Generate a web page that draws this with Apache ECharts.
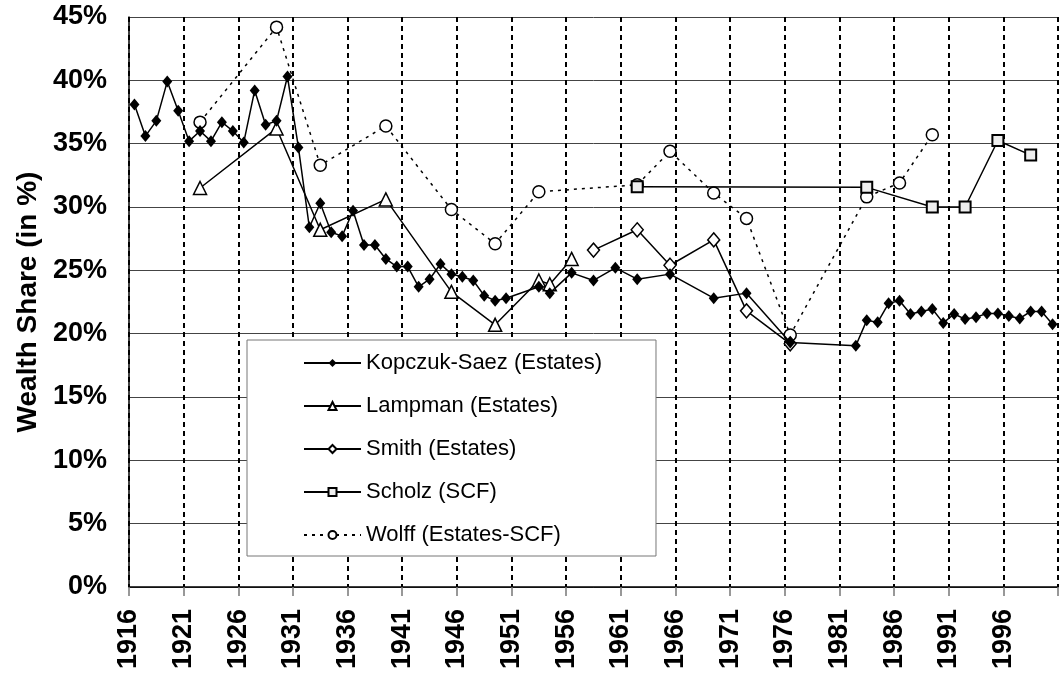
<!DOCTYPE html>
<html>
<head>
<meta charset="utf-8">
<script src="https://cdn.jsdelivr.net/npm/echarts@6/dist/echarts.min.js"></script>
<style>
  html, body { margin: 0; padding: 0; background: #fff; }
  #chart { width: 1062px; height: 687px; }
</style>
</head>
<body>
<div id="chart"></div>
<script>
// Top wealth share series (%)
const ksYears = [1916, 1917, 1918, 1919, 1920, 1921, 1922, 1923, 1924, 1925, 1926, 1927, 1928, 1929,
  1930, 1931, 1932, 1933, 1934, 1935, 1936, 1937, 1938, 1939, 1940, 1941, 1942, 1943, 1944, 1945,
  1946, 1947, 1948, 1949, 1950, 1953, 1954, 1956, 1958, 1960, 1962, 1965, 1969, 1972, 1976, 1982,
  1983, 1984, 1985, 1986, 1987, 1988, 1989, 1990, 1991, 1992, 1993, 1994, 1995, 1996, 1997, 1998,
  1999, 2000];
const ksValues = [38.1, 35.6, 36.8, 39.9, 37.6, 35.2, 36.0, 35.2, 36.7, 36.0, 35.1, 39.2, 36.5, 36.8,
  40.3, 34.7, 28.4, 30.3, 28.0, 27.7, 29.7, 27.0, 27.0, 25.9, 25.3, 25.3, 23.7, 24.3, 25.5, 24.7,
  24.5, 24.2, 23.0, 22.6, 22.8, 23.7, 23.2, 24.8, 24.2, 25.2, 24.3, 24.7, 22.8, 23.2, 19.3, 19.05,
  21.05, 20.9, 22.4, 22.6, 21.55, 21.75, 21.95, 20.85, 21.55, 21.15, 21.3, 21.6, 21.6, 21.4, 21.2, 21.75,
  21.75, 20.75];

const lampYears = [1922, 1929, 1933, 1939, 1945, 1949, 1953, 1954, 1956];
const lampValues = [31.5, 36.2, 28.2, 30.6, 23.3, 20.7, 24.2, 23.9, 25.9];

const smithYears = [1958, 1962, 1965, 1969, 1972, 1976];
const smithValues = [26.6, 28.2, 25.4, 27.4, 21.8, 19.2];

const scholzYears = [1962, 1983, 1989, 1992, 1995, 1998];
const scholzValues = [31.6, 31.55, 30.0, 30.0, 35.25, 34.1];

const wolffYears = [1922, 1929, 1933, 1939, 1945, 1949, 1953, 1962, 1965, 1969, 1972, 1976, 1983, 1986, 1989];
const wolffValues = [36.7, 44.2, 33.3, 36.4, 29.8, 27.1, 31.2, 31.75, 34.4, 31.1, 29.1, 19.9, 30.8, 31.9, 35.7];

const seriesNames = ['Kopczuk-Saez (Estates)', 'Lampman (Estates)', 'Smith (Estates)', 'Scholz (SCF)', 'Wolff (Estates-SCF)'];

const FONT = '"Liberation Sans", Arial, sans-serif';

function pairs(years, values) {
  return years.map((y, i) => [y, values[i]]);
}

const openItem = { color: '#fff', borderColor: '#000', borderWidth: 1.5 };

const chart = echarts.init(document.getElementById('chart'), null, { renderer: 'canvas' });
const option = {
  animation: false,
  backgroundColor: '#fff',
  textStyle: { fontFamily: FONT, color: '#000' },
  grid: { left: 129, right: 4, top: 17, bottom: 100 },
  legend: {
    orient: 'vertical',
    left: 247,
    top: 340,
    data: seriesNames,
    backgroundColor: '#fff',
    borderColor: '#777',
    borderWidth: 1,
    borderRadius: 0,
    padding: [12, 54, 10, 56],
    itemWidth: 57,
    itemHeight: 10,
    itemGap: 21,
    textStyle: { fontFamily: FONT, fontSize: 22, color: '#000' }
  },
  xAxis: {
    type: 'value',
    // points sit mid-year, labels on year boundaries
    min: 1915.5,
    max: 2000.5,
    interval: 5,
    axisLine: { show: true, lineStyle: { color: '#000', width: 1.5 } },
    axisTick: { show: true, length: 9, lineStyle: { color: '#777', width: 1.5 } },
    splitLine: { show: true, lineStyle: { color: '#000', width: 2, type: [5, 4] } },
    axisLabel: {
      rotate: 90,
      margin: 22,
      fontFamily: FONT,
      fontSize: 27,
      fontWeight: 'bold',
      color: '#000',
      formatter: v => (v + 0.5 >= 2001 ? '' : String(Math.round(v + 0.5)))
    }
  },
  yAxis: {
    type: 'value',
    min: 0,
    max: 45,
    interval: 5,
    name: 'Wealth Share (in %)',
    nameLocation: 'middle',
    nameGap: 82,
    nameTextStyle: { fontFamily: FONT, fontSize: 28, fontWeight: 'bold', color: '#000' },
    axisLine: { show: true, lineStyle: { color: '#000', width: 1.5 } },
    axisTick: { show: false },
    splitLine: { show: true, lineStyle: { color: '#444', width: 1 } },
    axisLabel: {
      margin: 22,
      fontFamily: FONT,
      fontSize: 27,
      fontWeight: 'bold',
      color: '#000',
      formatter: '{value}%'
    }
  },
  series: [
    {
      name: seriesNames[0],
      type: 'line',
      data: pairs(ksYears, ksValues),
      symbol: 'diamond',
      symbolSize: [10, 12],
      itemStyle: { color: '#000' },
      lineStyle: { color: '#000', width: 1.5 },
      z: 5
    },
    {
      name: seriesNames[1],
      type: 'line',
      data: pairs(lampYears, lampValues),
      symbol: 'triangle',
      symbolSize: 13,
      itemStyle: openItem,
      lineStyle: { color: '#000', width: 1.5 },
      z: 4
    },
    {
      name: seriesNames[2],
      type: 'line',
      data: pairs(smithYears, smithValues),
      symbol: 'diamond',
      symbolSize: [12, 14],
      itemStyle: openItem,
      lineStyle: { color: '#000', width: 1.5 },
      z: 4
    },
    {
      name: seriesNames[3],
      type: 'line',
      data: pairs(scholzYears, scholzValues),
      symbol: 'rect',
      symbolSize: 11,
      itemStyle: { color: '#eee', borderColor: '#000', borderWidth: 2 },
      lineStyle: { color: '#000', width: 1.5 },
      z: 4
    },
    {
      name: seriesNames[4],
      type: 'line',
      data: pairs(wolffYears, wolffValues),
      symbol: 'circle',
      symbolSize: 12,
      itemStyle: openItem,
      lineStyle: { color: '#000', width: 1.5, type: [3, 5] },
      z: 3
    }
  ]
};
chart.setOption(option);
</script>
</body>
</html>
